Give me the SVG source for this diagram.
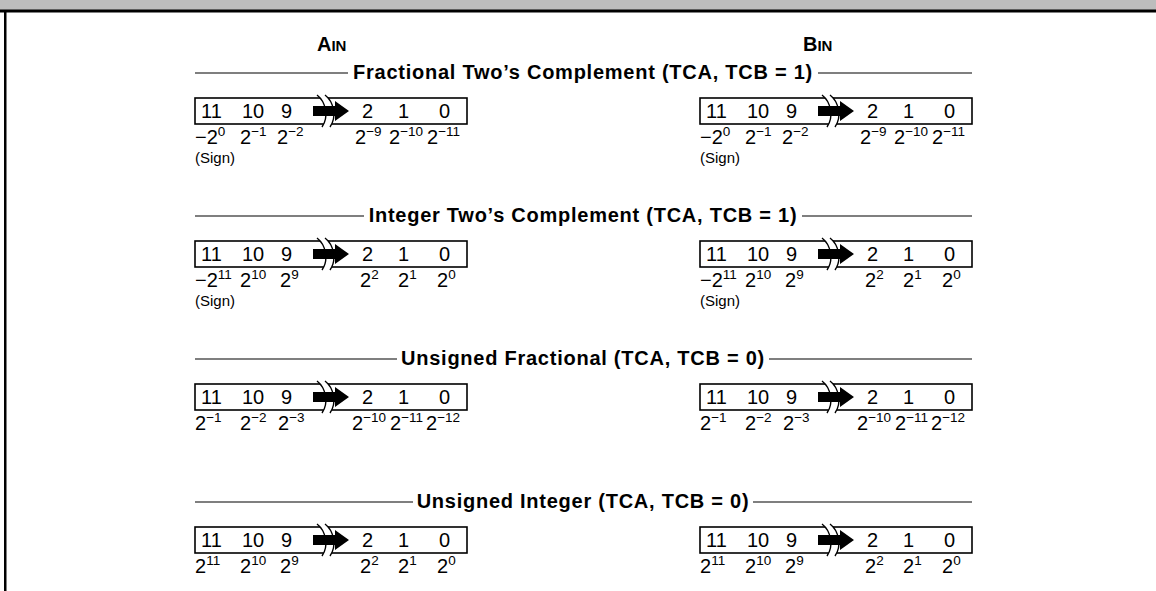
<svg xmlns="http://www.w3.org/2000/svg" xmlns:xlink="http://www.w3.org/1999/xlink" width="1156" height="591" viewBox="0 0 1156 591">
<style>
  text { font-family: "Liberation Sans", Arial, sans-serif; fill: #000; }
  .hdr { font-weight: bold; font-size: 20px; }
  .hdrs { font-size: 15px; }
  .title { font-weight: bold; font-size: 20px; letter-spacing: 0.75px; text-anchor: middle; }
  .bit { font-size: 20px; }
  .lbl { font-size: 20px; }
  .sup { font-size: 13.5px; }
  .sign { font-size: 15px; }
  .rule { stroke: #000; stroke-width: 1.2; }
  .box { fill: none; stroke: #000; stroke-width: 1.6; }
  .brk { fill: none; stroke: #000; stroke-width: 1.4; }
</style>
<defs>
  <g id="reg">
    <rect class="box" x="0" y="0" width="272" height="26"/>
    <path d="M122,-3 C131,4 134,19 127,29 L135,29 C142,19 139,4 130,-3 Z" fill="#fff"/>
    <path class="brk" d="M122,-3 C131,4 134,19 127,29"/>
    <path class="brk" d="M130,-3 C139,4 142,19 135,29"/>
    <path d="M118,8 H140 V3 L154,13 L140,23 V18 H118 Z" fill="#000"/>
    <text class="bit" x="6" y="20">11</text>
    <text class="bit" x="47" y="20">10</text>
    <text class="bit" x="86" y="20">9</text>
    <text class="bit" x="167" y="20">2</text>
    <text class="bit" x="203" y="20">1</text>
    <text class="bit" x="244" y="20">0</text>
  </g>
</defs>

<g id="frame">
  <rect x="0" y="0" width="1156" height="10" fill="#bdbdbd"/>
  <rect x="0" y="9.5" width="1156" height="3" fill="#000"/>
  <rect x="4" y="10" width="2.5" height="581" fill="#000"/>
</g>

<g id="headers">
  <text class="hdr" x="317" y="51">A<tspan class="hdrs">IN</tspan></text>
  <text class="hdr" x="803" y="51">B<tspan class="hdrs">IN</tspan></text>
</g>

<g id="titles">
  <line class="rule" x1="195" y1="73" x2="348" y2="73"/>
  <line class="rule" x1="818" y1="73" x2="972" y2="73"/>
  <text class="title" x="583" y="79">Fractional Two’s Complement (TCA, TCB = 1)</text>
  <line class="rule" x1="195" y1="216" x2="364" y2="216"/>
  <line class="rule" x1="802" y1="216" x2="972" y2="216"/>
  <text class="title" x="583" y="222">Integer Two’s Complement (TCA, TCB = 1)</text>
  <line class="rule" x1="195" y1="359" x2="397" y2="359"/>
  <line class="rule" x1="769" y1="359" x2="972" y2="359"/>
  <text class="title" x="583" y="365">Unsigned Fractional (TCA, TCB = 0)</text>
  <line class="rule" x1="195" y1="502" x2="413" y2="502"/>
  <line class="rule" x1="753" y1="502" x2="972" y2="502"/>
  <text class="title" x="583" y="508">Unsigned Integer (TCA, TCB = 0)</text>
</g>

<!-- Row 1: Fractional two's complement -->
<g id="ain-frac-tc">
  <use xlink:href="#reg" href="#reg" x="195" y="98"/>
  <text class="lbl" x="195" y="144">−2<tspan class="sup" dy="-8">0</tspan></text>
  <text class="lbl" x="240" y="144">2<tspan class="sup" dy="-8">−1</tspan></text>
  <text class="lbl" x="277" y="144">2<tspan class="sup" dy="-8">−2</tspan></text>
  <text class="lbl" x="355" y="144">2<tspan class="sup" dy="-8">−9</tspan></text>
  <text class="lbl" x="389" y="144">2<tspan class="sup" dy="-8">−10</tspan></text>
  <text class="lbl" x="427" y="144">2<tspan class="sup" dy="-8">−11</tspan></text>
  <text class="sign" x="195" y="163">(Sign)</text>
</g>
<g id="bin-frac-tc">
  <use xlink:href="#reg" href="#reg" x="700" y="98"/>
  <text class="lbl" x="700" y="144">−2<tspan class="sup" dy="-8">0</tspan></text>
  <text class="lbl" x="745" y="144">2<tspan class="sup" dy="-8">−1</tspan></text>
  <text class="lbl" x="782" y="144">2<tspan class="sup" dy="-8">−2</tspan></text>
  <text class="lbl" x="860" y="144">2<tspan class="sup" dy="-8">−9</tspan></text>
  <text class="lbl" x="894" y="144">2<tspan class="sup" dy="-8">−10</tspan></text>
  <text class="lbl" x="932" y="144">2<tspan class="sup" dy="-8">−11</tspan></text>
  <text class="sign" x="700" y="163">(Sign)</text>
</g>

<!-- Row 2: Integer two's complement -->
<g id="ain-int-tc">
  <use xlink:href="#reg" href="#reg" x="195" y="241"/>
  <text class="lbl" x="195" y="287">−2<tspan class="sup" dy="-8">11</tspan></text>
  <text class="lbl" x="240" y="287">2<tspan class="sup" dy="-8">10</tspan></text>
  <text class="lbl" x="280" y="287">2<tspan class="sup" dy="-8">9</tspan></text>
  <text class="lbl" x="360" y="287">2<tspan class="sup" dy="-8">2</tspan></text>
  <text class="lbl" x="398" y="287">2<tspan class="sup" dy="-8">1</tspan></text>
  <text class="lbl" x="437" y="287">2<tspan class="sup" dy="-8">0</tspan></text>
  <text class="sign" x="195" y="306">(Sign)</text>
</g>
<g id="bin-int-tc">
  <use xlink:href="#reg" href="#reg" x="700" y="241"/>
  <text class="lbl" x="700" y="287">−2<tspan class="sup" dy="-8">11</tspan></text>
  <text class="lbl" x="745" y="287">2<tspan class="sup" dy="-8">10</tspan></text>
  <text class="lbl" x="785" y="287">2<tspan class="sup" dy="-8">9</tspan></text>
  <text class="lbl" x="865" y="287">2<tspan class="sup" dy="-8">2</tspan></text>
  <text class="lbl" x="903" y="287">2<tspan class="sup" dy="-8">1</tspan></text>
  <text class="lbl" x="942" y="287">2<tspan class="sup" dy="-8">0</tspan></text>
  <text class="sign" x="700" y="306">(Sign)</text>
</g>

<!-- Row 3: Unsigned fractional -->
<g id="ain-uns-frac">
  <use xlink:href="#reg" href="#reg" x="195" y="384"/>
  <text class="lbl" x="195" y="430">2<tspan class="sup" dy="-8">−1</tspan></text>
  <text class="lbl" x="240" y="430">2<tspan class="sup" dy="-8">−2</tspan></text>
  <text class="lbl" x="278" y="430">2<tspan class="sup" dy="-8">−3</tspan></text>
  <text class="lbl" x="352" y="430">2<tspan class="sup" dy="-8">−10</tspan></text>
  <text class="lbl" x="390" y="430">2<tspan class="sup" dy="-8">−11</tspan></text>
  <text class="lbl" x="426" y="430">2<tspan class="sup" dy="-8">−12</tspan></text>
</g>
<g id="bin-uns-frac">
  <use xlink:href="#reg" href="#reg" x="700" y="384"/>
  <text class="lbl" x="700" y="430">2<tspan class="sup" dy="-8">−1</tspan></text>
  <text class="lbl" x="745" y="430">2<tspan class="sup" dy="-8">−2</tspan></text>
  <text class="lbl" x="783" y="430">2<tspan class="sup" dy="-8">−3</tspan></text>
  <text class="lbl" x="857" y="430">2<tspan class="sup" dy="-8">−10</tspan></text>
  <text class="lbl" x="895" y="430">2<tspan class="sup" dy="-8">−11</tspan></text>
  <text class="lbl" x="931" y="430">2<tspan class="sup" dy="-8">−12</tspan></text>
</g>

<!-- Row 4: Unsigned integer -->
<g id="ain-uns-int">
  <use xlink:href="#reg" href="#reg" x="195" y="527"/>
  <text class="lbl" x="195" y="573">2<tspan class="sup" dy="-8">11</tspan></text>
  <text class="lbl" x="240" y="573">2<tspan class="sup" dy="-8">10</tspan></text>
  <text class="lbl" x="280" y="573">2<tspan class="sup" dy="-8">9</tspan></text>
  <text class="lbl" x="360" y="573">2<tspan class="sup" dy="-8">2</tspan></text>
  <text class="lbl" x="398" y="573">2<tspan class="sup" dy="-8">1</tspan></text>
  <text class="lbl" x="437" y="573">2<tspan class="sup" dy="-8">0</tspan></text>
</g>
<g id="bin-uns-int">
  <use xlink:href="#reg" href="#reg" x="700" y="527"/>
  <text class="lbl" x="700" y="573">2<tspan class="sup" dy="-8">11</tspan></text>
  <text class="lbl" x="745" y="573">2<tspan class="sup" dy="-8">10</tspan></text>
  <text class="lbl" x="785" y="573">2<tspan class="sup" dy="-8">9</tspan></text>
  <text class="lbl" x="865" y="573">2<tspan class="sup" dy="-8">2</tspan></text>
  <text class="lbl" x="903" y="573">2<tspan class="sup" dy="-8">1</tspan></text>
  <text class="lbl" x="942" y="573">2<tspan class="sup" dy="-8">0</tspan></text>
</g>
</svg>
